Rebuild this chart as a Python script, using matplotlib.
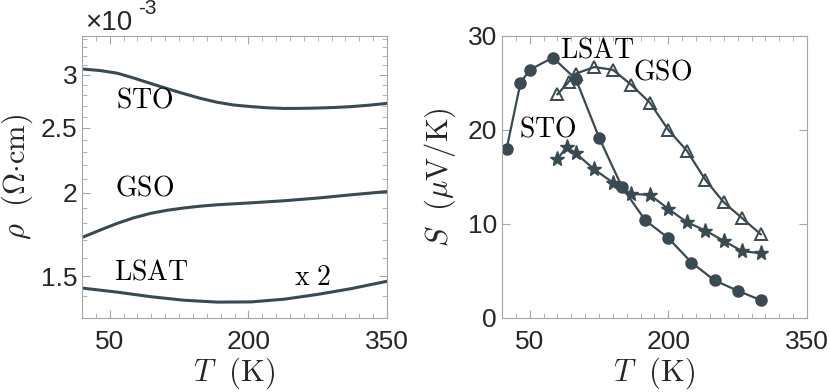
import matplotlib
matplotlib.use("Agg")
import matplotlib.pyplot as plt
from matplotlib.ticker import FixedLocator, FuncFormatter, NullFormatter
import numpy as np

plt.rcParams['font.family'] = ['Liberation Sans', 'DejaVu Sans']
plt.rcParams['mathtext.fontset'] = 'cm'

# left panel: resistivity (Ohm cm)
T_sto = [20, 40, 58, 76, 94, 112, 130, 148, 166, 184, 203, 221, 239, 257, 275, 293, 311, 330, 351]
rho_sto = [3.062e-3, 3.045e-3, 3.018e-3, 2.968e-3, 2.914e-3, 2.862e-3, 2.813e-3, 2.768e-3,
           2.731e-3, 2.705e-3, 2.690e-3, 2.679e-3, 2.673e-3, 2.674e-3, 2.677e-3, 2.682e-3,
           2.690e-3, 2.703e-3, 2.721e-3]
T_gso = [20, 40, 58, 76, 94, 112, 130, 148, 166, 203, 239, 275, 311, 351]
rho_gso = [1.715e-3, 1.760e-3, 1.800e-3, 1.835e-3, 1.863e-3, 1.883e-3, 1.898e-3, 1.910e-3,
           1.919e-3, 1.932e-3, 1.946e-3, 1.964e-3, 1.986e-3, 2.009e-3]
T_lsat = [20, 58, 94, 130, 166, 203, 239, 275, 311, 351]
rho_lsat = [1.441e-3, 1.421e-3, 1.399e-3, 1.382e-3, 1.373e-3, 1.374e-3,
            1.387e-3, 1.410e-3, 1.438e-3, 1.476e-3]

# right panel: Seebeck coefficient (uV/K)
T_S_lsat = [25, 40, 50, 75, 100, 125, 150, 175, 200, 225, 250, 275, 300]
S_lsat = [18.0, 25.0, 26.4, 27.7, 25.4, 19.2, 13.9, 10.4, 8.5, 5.9, 4.0, 2.9, 1.9]
T_S_gso = [80, 92, 100, 120, 140, 160, 180, 200, 220, 240, 260, 280, 300]
S_gso = [23.8, 25.1, 26.0, 26.7, 26.4, 24.8, 22.9, 20.0, 17.8, 14.7, 12.3, 10.6, 8.9]
T_S_sto = [80, 90, 100, 120, 140, 160, 180, 200, 220, 240, 260, 280, 300]
S_sto = [16.9, 18.2, 17.5, 15.8, 14.4, 13.2, 13.1, 11.6, 10.2, 9.3, 8.2, 7.1, 6.9]

line_c = '#3a4a52'
spine_c = '#a6a6a6'
txt_c = '#262626'

fig = plt.figure(figsize=(8.3, 3.92), dpi=100)
ax1 = fig.add_axes([0.0988, 0.1888, 0.3675, 0.7194])
ax2 = fig.add_axes([0.6048, 0.1888, 0.3675, 0.7194])


def style_axes(ax):
    for s in ax.spines.values():
        s.set_color(spine_c)
        s.set_linewidth(0.8)
    ax.tick_params(which='both', direction='in', top=True, right=True,
                   color=spine_c, labelcolor=txt_c, labelsize=19)
    ax.tick_params(which='major', length=6)
    ax.tick_params(which='minor', length=3.5)
    ax.tick_params(axis='x', pad=9)
    ax.set_xlim(20, 350)
    ax.xaxis.set_major_locator(FixedLocator([50, 200, 350]))
    ax.xaxis.set_minor_locator(FixedLocator(np.arange(35, 350, 15)))
    ax.set_xlabel(r'$T\ \ \mathrm{(K)}$', fontsize=22, color=txt_c, labelpad=1)


# left
ax1.plot(T_sto, rho_sto, color=line_c, lw=2.2)
ax1.plot(T_gso, rho_gso, color=line_c, lw=2.2)
ax1.plot(T_lsat, rho_lsat, color=line_c, lw=2.2)
ax1.set_yscale('log')
ax1.set_ylim(1.30e-3, 3.43e-3)
style_axes(ax1)
ax1.yaxis.set_major_locator(FixedLocator([1.5e-3, 2e-3, 2.5e-3, 3e-3]))
ax1.yaxis.set_major_formatter(FuncFormatter(lambda v, p: '%g' % round(v * 1e3, 2)))
ax1.yaxis.set_minor_locator(FixedLocator(np.arange(1.3e-3, 3.45e-3, 0.1e-3)))
ax1.yaxis.set_minor_formatter(NullFormatter())
ax1.set_ylabel(r'$\rho\ \ (\Omega{\cdot}\mathrm{cm})$', fontsize=22, color=txt_c, labelpad=4)
fig.text(85 / 830, 1 - 30 / 392, '×10', fontsize=20, color=txt_c, ha='left', va='baseline')
fig.text(138 / 830, 1 - 14 / 392, '-3', fontsize=15, color=txt_c, ha='left', va='baseline')
ax1.text(88, 2.75e-3, r'$\mathrm{STO}$', fontsize=20, ha='center', va='center', color='black')
ax1.text(88, 2.03e-3, r'$\mathrm{GSO}$', fontsize=20, ha='center', va='center', color='black')
ax1.text(95, 1.52e-3, r'$\mathrm{LSAT}$', fontsize=20, ha='center', va='center', color='black')
ax1.text(269, 1.49e-3, r'$\mathrm{x\ 2}$', fontsize=20, ha='center', va='center', color='black')

# right
ax2.plot(T_S_lsat, S_lsat, color=line_c, lw=1.6, marker='o', ms=8,
         mfc=line_c, mec=line_c)
ax2.plot(T_S_gso, S_gso, color=line_c, lw=1.6, marker='^', ms=9,
         mfc='none', mec=line_c, mew=1.4)
ax2.plot(T_S_sto, S_sto, color=line_c, lw=1.6, marker='*', ms=11,
         mfc=line_c, mec=line_c)
ax2.set_ylim(0, 30)
style_axes(ax2)
ax2.yaxis.set_major_locator(FixedLocator([0, 10, 20, 30]))
ax2.yaxis.set_minor_locator(FixedLocator([]))
ax2.set_ylabel(r'$S\ \ (\mu\mathrm{V/K})$', fontsize=22, color=txt_c, labelpad=7)
ax2.text(123, 28.5, r'$\mathrm{LSAT}$', fontsize=20, ha='center', va='center', color='black')
ax2.text(194, 26.1, r'$\mathrm{GSO}$', fontsize=20, ha='center', va='center', color='black')
ax2.text(70, 20.0, r'$\mathrm{STO}$', fontsize=20, ha='center', va='center', color='black')

fig.savefig('out.png', dpi=100)
